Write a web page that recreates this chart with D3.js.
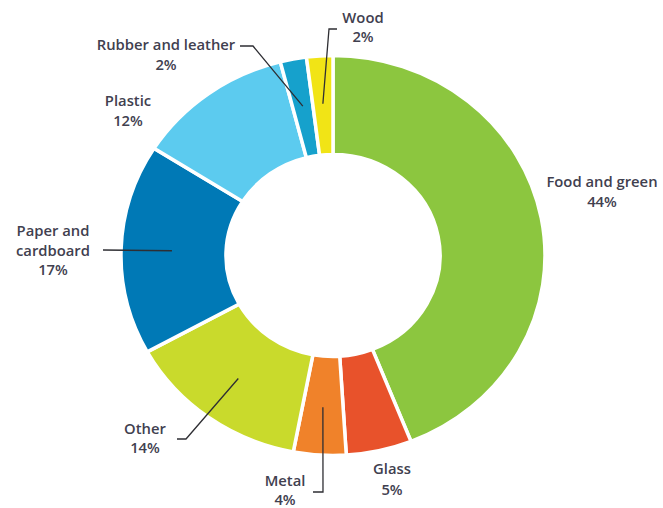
<!DOCTYPE html>
<html>
<head>
<meta charset="utf-8">
<script src="https://cdn.jsdelivr.net/npm/d3@7"></script>
<style>
  html, body { margin: 0; padding: 0; background: #fff; }
  svg { display: block; }
  text { font-family: "Open Sans", Lato, sans-serif; font-size: 14.8px; font-weight: 600; fill: #41404f; }
</style>
</head>
<body>
<svg id="chart" width="663" height="508"></svg>
<script>
// ---- data ----
const categories = ["Food and green", "Glass", "Metal", "Other", "Paper and cardboard", "Plastic", "Rubber and leather", "Wood"];
const values = [44, 5, 4, 14, 17, 12, 2, 2];
const labelLines = [
  ["Food and green", "44%"],
  ["Glass", "5%"],
  ["Metal", "4%"],
  ["Other", "14%"],
  ["Paper and", "cardboard", "17%"],
  ["Plastic", "12%"],
  ["Rubber and leather", "2%"],
  ["Wood", "2%"]
];

// ---- styles & layout ----
const colors = ["#8cc63f", "#e8522b", "#f0822a", "#c9da2c", "#0079b6", "#5ccbef", "#16a1cc", "#f1e416"];
const cx = 333, cy = 255.5, sx = 1.06;
const outerR = 200, innerR = 101, leaderR = 152;
const labelLayout = [
  { x: 602, y: 187, step: 20 },
  { x: 392, y: 474, step: 21 },
  { x: 285, y: 486, step: 19 },
  { x: 145, y: 434, step: 19 },
  { x: 53,  y: 236, step: 19.5 },
  { x: 128, y: 106, step: 20 },
  { x: 166, y: 50,  step: 20 },
  { x: 363, y: 23,  step: 19 }
];
const leaderRoutes = {
  2: [[323, 492], [313, 492]],
  3: [[186, 439], [177, 439]],
  4: [[103, 250]],
  6: [[253, 46], [240, 46]],
  7: [[329, 29], [337, 29]]
};

const svg = d3.select("#chart");
const pie = d3.pie().sort(null).value(d => d)(values);
const arc = d3.arc().innerRadius(innerR).outerRadius(outerR);

const g = svg.append("g").attr("transform", `translate(${cx},${cy}) scale(${sx},1)`);
g.selectAll("path.slice")
  .data(pie)
  .join("path")
  .attr("class", "slice")
  .attr("d", arc)
  .attr("fill", (d, i) => colors[i])
  .attr("stroke", "#fff")
  .attr("stroke-width", 3.5)
  .attr("stroke-linejoin", "miter")
  .attr("vector-effect", "non-scaling-stroke");

const line = d3.line();
pie.forEach((d, i) => {
  const route = leaderRoutes[i];
  if (!route) return;
  const mid = (d.startAngle + d.endAngle) / 2;
  const start = [cx + sx * leaderR * Math.sin(mid), cy - leaderR * Math.cos(mid)];
  svg.append("path")
    .attr("d", line([start, ...route]))
    .attr("fill", "none")
    .attr("stroke", "#2e2e33")
    .attr("stroke-width", 1.3);
});

categories.forEach((c, i) => {
  const L = labelLayout[i];
  const t = svg.append("text").attr("text-anchor", "middle");
  labelLines[i].forEach((s, k) => {
    t.append("tspan").attr("x", L.x).attr("y", L.y + k * L.step).text(s);
  });
});
</script>
</body>
</html>
